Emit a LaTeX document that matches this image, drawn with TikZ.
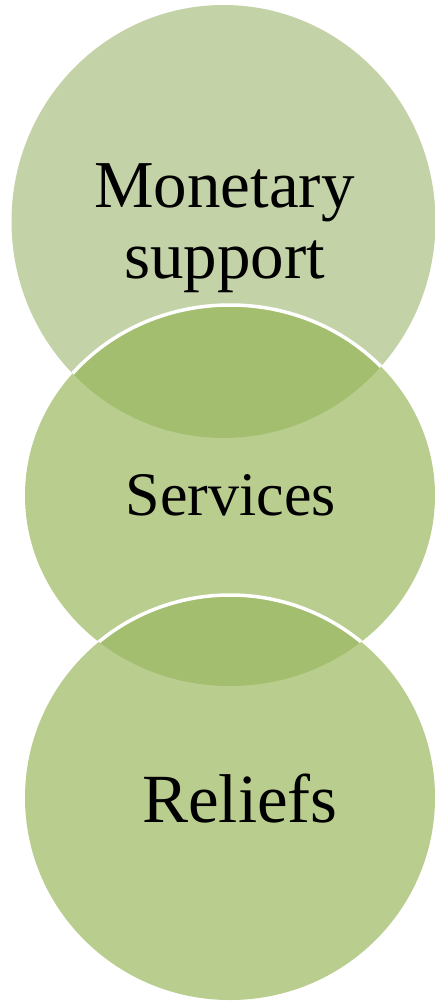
\documentclass[tikz,border=0pt]{standalone}
\usepackage{fontspec}
\setmainfont{Liberation Serif}
\definecolor{topfill}{HTML}{C4D3A7}
\definecolor{midfill}{HTML}{B9CD8F}
\definecolor{overfill}{HTML}{A3BE6E}
\tikzset{
  ringline/.style={draw=white, line width=3.5pt},
  lbl/.style={text=black, inner sep=0pt, align=center}
}
\begin{document}
\begin{tikzpicture}[x=1pt,y=-1pt]
\useasboundingbox (0,0) rectangle (435,1001);
% circle 1
\fill[topfill] (223.5,221.5) ellipse [x radius=212, y radius=216.5];
% circle 2
\fill[midfill] (230,495.5) ellipse [x radius=205, y radius=190.5];
\begin{scope}
  \clip (223.5,221.5) ellipse [x radius=212, y radius=216.5];
  \fill[overfill] (230,495.5) ellipse [x radius=205, y radius=190.5];
  \draw[ringline] (230,495.5) ellipse [x radius=205, y radius=190.5];
\end{scope}
% circle 3
\fill[midfill] (230,797.5) ellipse [x radius=205, y radius=202.5];
\begin{scope}
  \clip (230,495.5) ellipse [x radius=205, y radius=190.5];
  \fill[overfill] (230,797.5) ellipse [x radius=205, y radius=202.5];
  \draw[ringline] (230,797.5) ellipse [x radius=205, y radius=202.5];
\end{scope}
% labels
\node[lbl, anchor=base, font=\fontsize{67}{71}\selectfont] (mon) at (224.5,207) {Monetary};
\node[lbl, anchor=base, font=\fontsize{67}{71}\selectfont] (sup) at (224.5,278) {support};
\node[lbl, anchor=base, font=\fontsize{62}{66}\selectfont] (srv) at (231,515) {Services};
\node[lbl, anchor=base, font=\fontsize{69}{72}\selectfont] (rel) at (240,822) {Reliefs};
\end{tikzpicture}
\end{document}
